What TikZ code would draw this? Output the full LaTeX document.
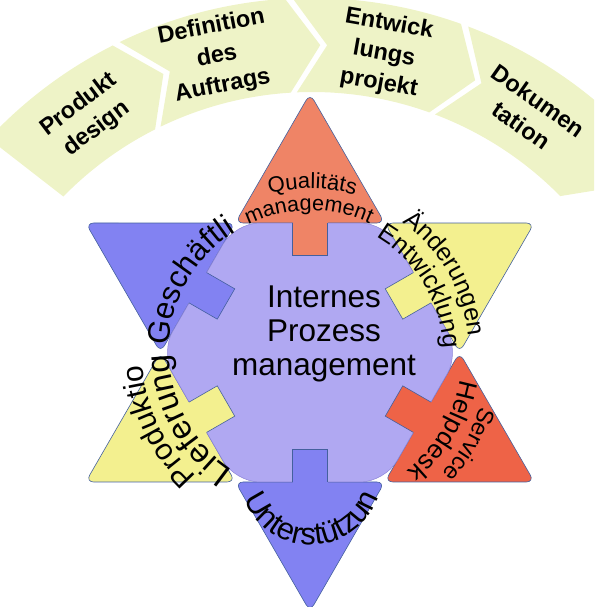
\documentclass[tikz,border=0pt]{standalone}
\usepackage{fontspec}
\setmainfont{Liberation Sans}
\usetikzlibrary{calc,decorations.text}
\definecolor{bannerc}{HTML}{EEF3C7}
\definecolor{salmon}{HTML}{EF8466}
\definecolor{redor}{HTML}{EE6347}
\definecolor{bluec}{HTML}{8282F2}
\definecolor{yellowc}{HTML}{F3F08F}
\definecolor{lavender}{HTML}{B0A8F2}
\definecolor{lavline}{HTML}{8C84D8}
\definecolor{outl}{HTML}{44609E}
\begin{document}
\begin{tikzpicture}[x=1pt,y=1pt,
  bantext/.style={font=\bfseries\fontsize{23.5}{30}\selectfont, align=center, inner sep=0pt},
  tri/.style={draw=outl, line width=0.6pt, rounded corners=8pt},
  stemline/.style={draw=outl, line width=0.6pt},
  centertext/.style={font=\fontsize{31.5}{34}\selectfont, align=center, inner sep=0pt}]
\useasboundingbox (0,0) rectangle (594,607);
\clip (0,0) rectangle (594,607);
\coordinate (O) at (312,167);
\coordinate (C) at (310,254.5);
\coordinate (U) at (311,134);
% banner: first segment with a flat tail
\fill[bannerc] ($(O)+(137:442)$) arc[start angle=137, end angle=116.8, radius=442pt]
    -- ($(O)+({116.8-4.7}:395)$) -- ($(O)+(116.8:348)$)
    arc[start angle=116.8, end angle=135.6, radius=348pt] -- cycle;
% banner: chevron segments
\foreach \t/\h in {115.8/93.5, 92.5/70.3, 69.3/44.5} {
  \fill[bannerc] ($(O)+(\t:442)$) arc[start angle=\t, end angle=\h, radius=442pt]
    -- ($(O)+({\h-4.7}:395)$) -- ($(O)+(\h:348)$)
    arc[start angle=\h, end angle=\t, radius=348pt]
    -- ($(O)+({\t-4.7}:395)$) -- cycle;
}
\node[bantext, rotate=37] (b1) at (88,490) {Produkt\\design};
\node[bantext, rotate=11] (b2) at (217,550.5) {Definition\\des\\Auftrags};
\node[bantext, rotate=-10] (b3) at (384,553) {Entwick\\lungs\\projekt};
\node[bantext, rotate=-35] (b4) at (530,494) {Dokumen\\tation};
% star triangles
\foreach \a/\col in {90/salmon, 150/bluec, 210/yellowc, 270/bluec, 330/redor, 30/yellowc} {
  \filldraw[tri, fill=\col] ($(C)+(\a:259)$) -- ($(C)+({\a-30}:149.5)$) -- ($(C)+({\a+30}:149.5)$) -- cycle;
}
% centre hexagon
\filldraw[fill=lavender, draw=lavline, line width=0.5pt, rounded corners=24pt]
  ($(C)+(0:149.5)$) -- ($(C)+(60:149.5)$) -- ($(C)+(120:149.5)$) -- ($(C)+(180:149.5)$)
  -- ($(C)+(240:149.5)$) -- ($(C)+(300:149.5)$) -- cycle;
% stems
\foreach \a/\col in {90/salmon, 150/bluec, 210/yellowc, 270/bluec, 330/redor, 30/yellowc} {
  \begin{scope}[shift={(C)}, rotate=\a]
    \fill[\col] (97,-17.5) rectangle (132,17.5);
    \draw[stemline] (129.5,17.5) -- (97,17.5) -- (97,-17.5) -- (129.5,-17.5);
  \end{scope}
}
% curved texts
\path[decorate, decoration={text along path, text align=center, text={|\fontsize{22}{22}\selectfont|Qualitäts}}]
  ($(C)+(139.2:164)$) arc[start angle=139.2, end angle=39.2, radius=164pt];
\path[decorate, decoration={text along path, text align=center, text={|\fontsize{21.5}{21.5}\selectfont|management}}]
  ($(C)+(150.5:142)$) arc[start angle=150.5, end angle=30.5, radius=142pt];
\path[decorate, decoration={text along path, text align=center, text={|\fontsize{31}{31}\selectfont|Geschäftli}}]
  ($(C)+(194.4:141.5)$) arc[start angle=194.4, end angle=104.4, radius=141.5pt];
\path[decorate, decoration={text along path, text align=center, text={|\fontsize{25}{25}\selectfont|Änderungen}}]
  ($(C)+(75.3:159.4)$) arc[start angle=75.3, end angle=-14.7, radius=159.4pt];
\path[decorate, decoration={text along path, text align=center, text={|\fontsize{25.5}{25.5}\selectfont|Entwicklung}}]
  ($(C)+(80.9:133.3)$) arc[start angle=80.9, end angle=-19.1, radius=133.3pt];
\path[decorate, decoration={text along path, text align=center, text={|\fontsize{23.5}{23.5}\selectfont|Service}}]
  ($(C)+(10:179)$) arc[start angle=10, end angle=-70, radius=179pt];
\path[decorate, decoration={text along path, text align=center, text={|\fontsize{26}{26}\selectfont|Helpdesk}}]
  ($(C)+(14.7:153)$) arc[start angle=14.7, end angle=-75.3, radius=153pt];
\path[decorate, decoration={text along path, text align=center, text={|\fontsize{30}{30}\selectfont|Produktio}}]
  ($(C)+(250.8:168)$) arc[start angle=250.8, end angle=160.8, radius=168pt];
\path[decorate, decoration={text along path, text align=center, text={|\fontsize{33}{33}\selectfont|Lieferung}}]
  ($(C)+(253.8:140.6)$) arc[start angle=253.8, end angle=163.8, radius=140.6pt];
\path[decorate, decoration={text along path, text align=center, text={|\fontsize{31}{31}\selectfont|Unterstützun}}]
  ($(U)+(186:72)$) arc[start angle=186, end angle=356, radius=72pt];
% centre text
\node[centertext] (ct) at (324,273.5) {Internes\\Prozess\\management};
\end{tikzpicture}
\end{document}
